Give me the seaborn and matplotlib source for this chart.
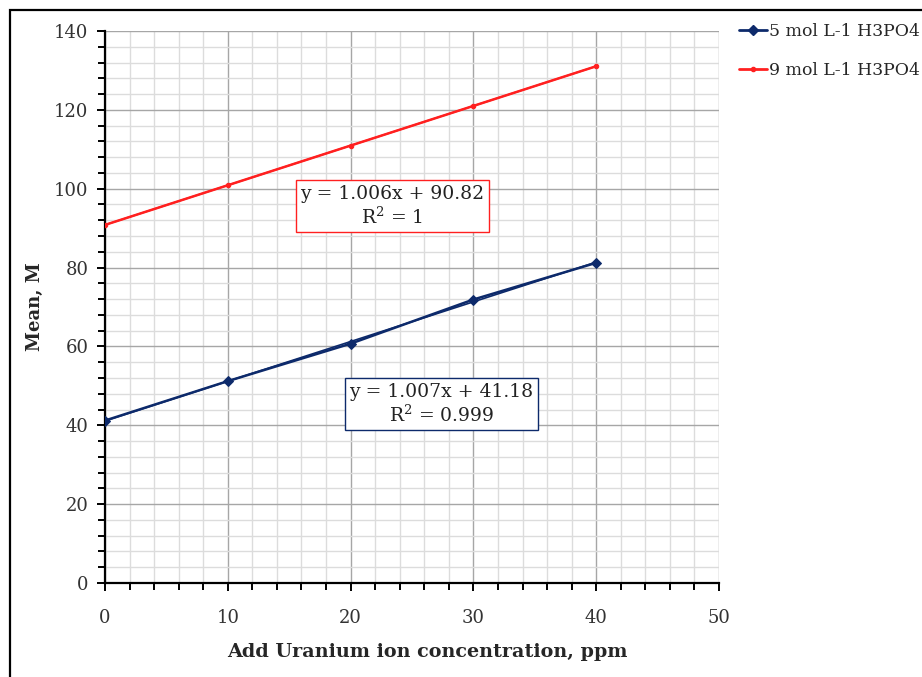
import matplotlib
matplotlib.use("Agg")
import matplotlib.pyplot as plt
import seaborn as sns
import pandas as pd
import numpy as np
from matplotlib.patches import Rectangle
from matplotlib.ticker import MultipleLocator
from matplotlib.lines import Line2D

# ---- data ----
conc = [0, 10, 20, 30, 40]
mean_5mol = [41.2, 51.2, 60.7, 71.9, 81.2]
mean_9mol = [90.82, 100.88, 110.94, 121.0, 131.06]
series_names = ["5 mol L-1 H3PO4", "9 mol L-1 H3PO4"]
eq_5mol = "y = 1.007x + 41.18\nR$^2$ = 0.999"
eq_9mol = "y = 1.006x + 90.82\nR$^2$ = 1"
x_label = "Add Uranium ion concentration, ppm"
y_label = "Mean, M"

sns.set_theme(style="white")
plt.rcParams['font.family'] = ['DejaVu Serif']
plt.rcParams['mathtext.fontset'] = 'dejavuserif'

blue = "#0d2a6b"
red = "#ff2020"

df = pd.DataFrame({
    "x": conc * 2,
    "y": mean_5mol + mean_9mol,
    "series": [series_names[0]] * len(conc) + [series_names[1]] * len(conc),
})

fig = plt.figure(figsize=(9.22, 6.77), dpi=100)
ax = fig.add_axes([105/922, 1 - 583/677, (719 - 105)/922, (583 - 31)/677])

# trend lines
sns.regplot(x=conc, y=mean_5mol, ax=ax, scatter=False, ci=None, truncate=True,
            line_kws=dict(color=blue, lw=1.2, zorder=3))
sns.regplot(x=conc, y=mean_9mol, ax=ax, scatter=False, ci=None, truncate=True,
            line_kws=dict(color=red, lw=1.2, zorder=3))

sns.lineplot(data=df, x="x", y="y", hue="series", style="series",
             palette={series_names[0]: blue, series_names[1]: red},
             markers={series_names[0]: "D", series_names[1]: "o"},
             dashes=False, ax=ax, legend=False, zorder=4)
for ln in ax.get_lines():
    if ln.get_marker() == "D":
        ln.set_markersize(5.5); ln.set_linewidth(1.8)
        ln.set_markerfacecolor(blue); ln.set_markeredgecolor(blue)
    elif ln.get_marker() == "o":
        ln.set_markersize(3.2); ln.set_linewidth(1.8)
        ln.set_markerfacecolor(red); ln.set_markeredgecolor(red)

ax.set_xlim(0, 50)
ax.set_ylim(0, 140)
ax.xaxis.set_major_locator(MultipleLocator(10))
ax.xaxis.set_minor_locator(MultipleLocator(2))
ax.yaxis.set_major_locator(MultipleLocator(20))
ax.yaxis.set_minor_locator(MultipleLocator(4))
ax.grid(which="major", color="#a6a6a6", lw=1.0)
ax.grid(which="minor", color="#dcdcdc", lw=1.0)
ax.set_axisbelow(True)

for s in ["top", "right"]:
    ax.spines[s].set_visible(False)
for s in ["left", "bottom"]:
    ax.spines[s].set_color("black")
    ax.spines[s].set_linewidth(1.6)
ax.tick_params(which="both", direction="out", color="black", width=1.4,
               left=True, bottom=True)
ax.tick_params(which="major", length=6, labelsize=13, labelcolor="#333333", pad=6)
ax.tick_params(which="minor", length=5)
ax.tick_params(axis="x", which="major", pad=13)

ax.set_xlabel(x_label, fontsize=13.8, fontweight="bold")
ax.xaxis.set_label_coords((427 - 105) / 614, (583 - 643) / 552)
ax.set_ylabel(y_label, fontsize=13, fontweight="bold", labelpad=7)

ax.text(23.4, 95.6, eq_9mol, ha="center", va="center", multialignment="center",
        fontsize=13.5, color="#222222",
        bbox=dict(boxstyle="square,pad=0.25", fc="white", ec=red, lw=1.0), zorder=6)
ax.text(27.4, 45.4, eq_5mol, ha="center", va="center", multialignment="center",
        fontsize=13.5, color="#222222",
        bbox=dict(boxstyle="square,pad=0.25", fc="white", ec=blue, lw=1.0), zorder=6)

# legend
handles = [Line2D([], [], color=blue, marker="D", markersize=5, lw=2),
           Line2D([], [], color=red, marker="o", markersize=3, lw=2)]
fig.legend(handles, series_names, loc="upper left",
           bbox_to_anchor=(739/922, 1 - 23/677), frameon=False,
           fontsize=12.4, handlelength=1.6, handletextpad=0.12, labelspacing=1.25,
           borderaxespad=0, borderpad=0)

# outer chart frame
fig.patches.append(Rectangle((10/922, -0.05), 1.2, 1 - 10/677 + 0.05,
                             transform=fig.transFigure, fill=False,
                             ec="black", lw=1.6))

fig.savefig("out.png", dpi=100)
